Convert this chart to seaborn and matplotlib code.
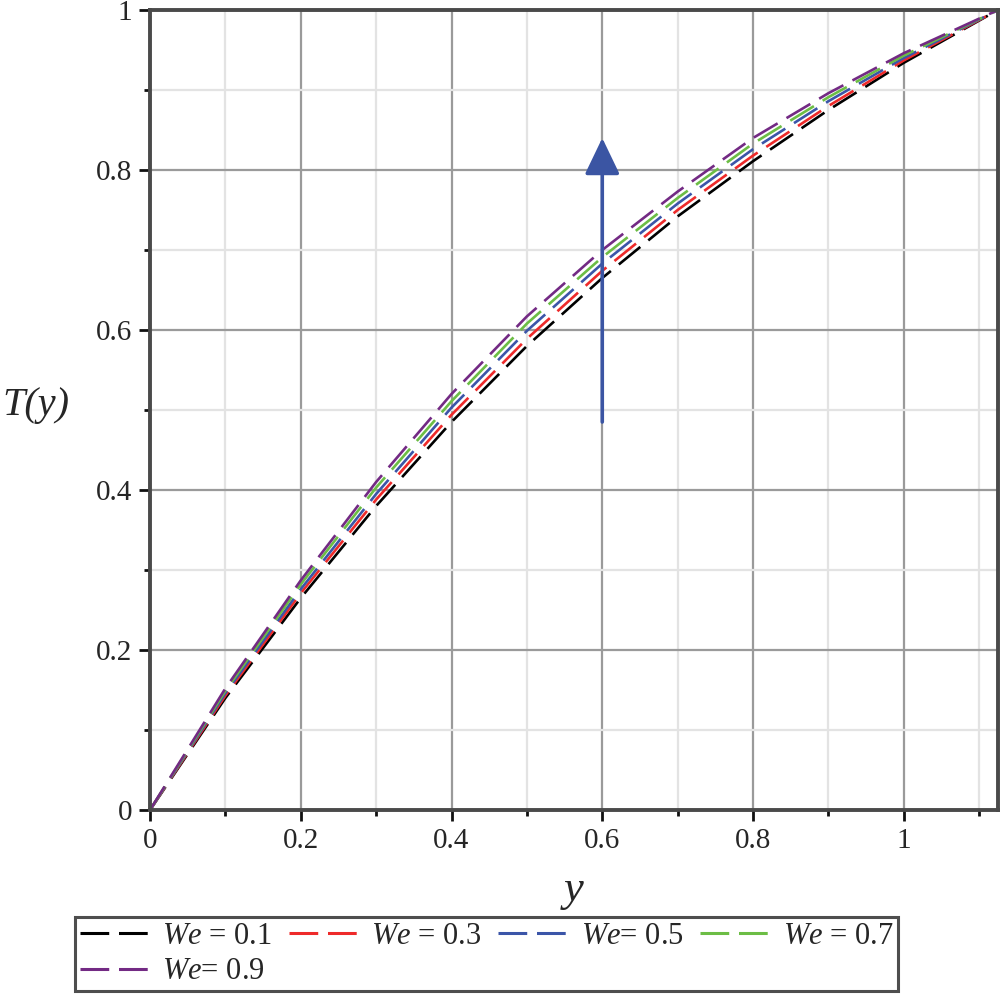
import numpy as np
import pandas as pd
import matplotlib
matplotlib.use("Agg")
import matplotlib.pyplot as plt
from matplotlib.lines import Line2D
import seaborn as sns
from matplotlib.ticker import MultipleLocator, FuncFormatter

# ---- data ----
y_vals = [0.0, 0.1, 0.2, 0.3, 0.4, 0.5, 0.6, 0.7, 0.8, 0.9, 1.0, 1.125]
T_we01 = [0.0, 0.140, 0.265, 0.380, 0.485, 0.580, 0.665, 0.742, 0.811, 0.875, 0.934, 1.0]
T_we03 = [0.0, 0.143, 0.271, 0.388, 0.494, 0.589, 0.674, 0.750, 0.818, 0.880, 0.937, 1.0]
T_we05 = [0.0, 0.146, 0.276, 0.395, 0.503, 0.599, 0.683, 0.758, 0.826, 0.886, 0.940, 1.0]
T_we07 = [0.0, 0.149, 0.282, 0.403, 0.511, 0.608, 0.691, 0.765, 0.833, 0.891, 0.943, 1.0]
T_we09 = [0.0, 0.152, 0.287, 0.410, 0.520, 0.617, 0.700, 0.773, 0.840, 0.896, 0.946, 1.0]
series = [T_we01, T_we03, T_we05, T_we07, T_we09]
labels = [r"$\mathit{We}$ = 0.1", r"$\mathit{We}$ = 0.3", r"$\mathit{We}$= 0.5",
          r"$\mathit{We}$ = 0.7", r"$\mathit{We}$= 0.9"]
colors = ["#000000", "#ee2a2a", "#3b55a8", "#6cbd45", "#732a84"]
arrow_x = 0.6
arrow_from = 0.485
arrow_to = 0.84

sns.set_style("white")
plt.rcParams["font.family"] = ["Liberation Serif", "DejaVu Serif"]
plt.rcParams["mathtext.fontset"] = "custom"
plt.rcParams["mathtext.rm"] = "Liberation Serif"
plt.rcParams["mathtext.it"] = "Liberation Serif:italic"
plt.rcParams["legend.numpoints"] = 1

fig = plt.figure(figsize=(10.06, 10.01), dpi=100)
ax = fig.add_axes([150/1006, 191/1001, 848/1006, 800/1001])

for vals, lab, col in zip(series, labels, colors):
    df = pd.DataFrame({"y": y_vals, "T": vals})
    sns.lineplot(data=df, x="y", y="T", ax=ax, color=col, label=lab,
                 linewidth=1.9, linestyle=(0, (10.5, 3.9)), sort=False)

ax.annotate("", xy=(arrow_x, arrow_to), xytext=(arrow_x, arrow_from),
            arrowprops=dict(arrowstyle="-|>,head_length=0.75,head_width=0.36",
                            mutation_scale=30, color="#3b55a3", lw=2.6,
                            shrinkA=0, shrinkB=0),
            zorder=5)

ax.set_xlim(0, 1.125)
ax.set_ylim(0, 1)
ax.xaxis.set_major_locator(MultipleLocator(0.2))
ax.xaxis.set_minor_locator(MultipleLocator(0.1))
ax.yaxis.set_major_locator(MultipleLocator(0.2))
ax.yaxis.set_minor_locator(MultipleLocator(0.1))
fmt = FuncFormatter(lambda v, p: "0" if abs(v) < 1e-9 else ("1" if abs(v - 1) < 1e-9 else f"{v:.1f}"))
ax.xaxis.set_major_formatter(fmt)
ax.yaxis.set_major_formatter(fmt)
ax.grid(True, which="major", color="#9a9a9a", linewidth=1.6)
ax.grid(True, which="minor", color="#e3e3e3", linewidth=1.6)
ax.set_axisbelow(True)
ax.tick_params(which="major", direction="out", length=8, width=2.0, color="#111111",
               labelsize=21, pad=5, bottom=True, left=True, top=False, right=False)
ax.tick_params(which="minor", direction="out", length=4.5, width=2.0, color="#111111",
               bottom=True, left=True, top=False, right=False)
for s in ax.spines.values():
    s.set_color("#4a4a4a")
    s.set_linewidth(2.8)

ax.set_xlabel("y", fontsize=32, fontstyle="italic")
ax.xaxis.label.set_va("center")
ax.xaxis.set_label_coords(0.5, -0.1)
ax.set_ylabel("T(y)", fontsize=29, fontstyle="italic", rotation=0)
ax.yaxis.label.set_va("center")
ax.yaxis.label.set_ha("center")
ax.yaxis.set_label_coords(-0.135, 0.505)

ax.get_legend().remove()
proxy = [Line2D([0, 1], [0, 0], color=c, lw=2.2, linestyle=(0, (9.4, 3.2)),
                dash_capstyle="butt") for c in colors]
order = [0, 4, 1, 2, 3]
leg = fig.legend([proxy[i] for i in order], [labels[i] for i in order],
                 loc="upper left", ncol=4,
                 bbox_to_anchor=(75/1006, 1 - 917/1001),
                 fontsize=22, frameon=True, fancybox=False, handlelength=2.25,
                 handletextpad=0.45, columnspacing=0.55, borderaxespad=0.0,
                 borderpad=0.15, labelspacing=0.22)
leg.get_frame().set_edgecolor("#222222")
leg.get_frame().set_linewidth(2.2)

fig.savefig("out.png", dpi=100)
